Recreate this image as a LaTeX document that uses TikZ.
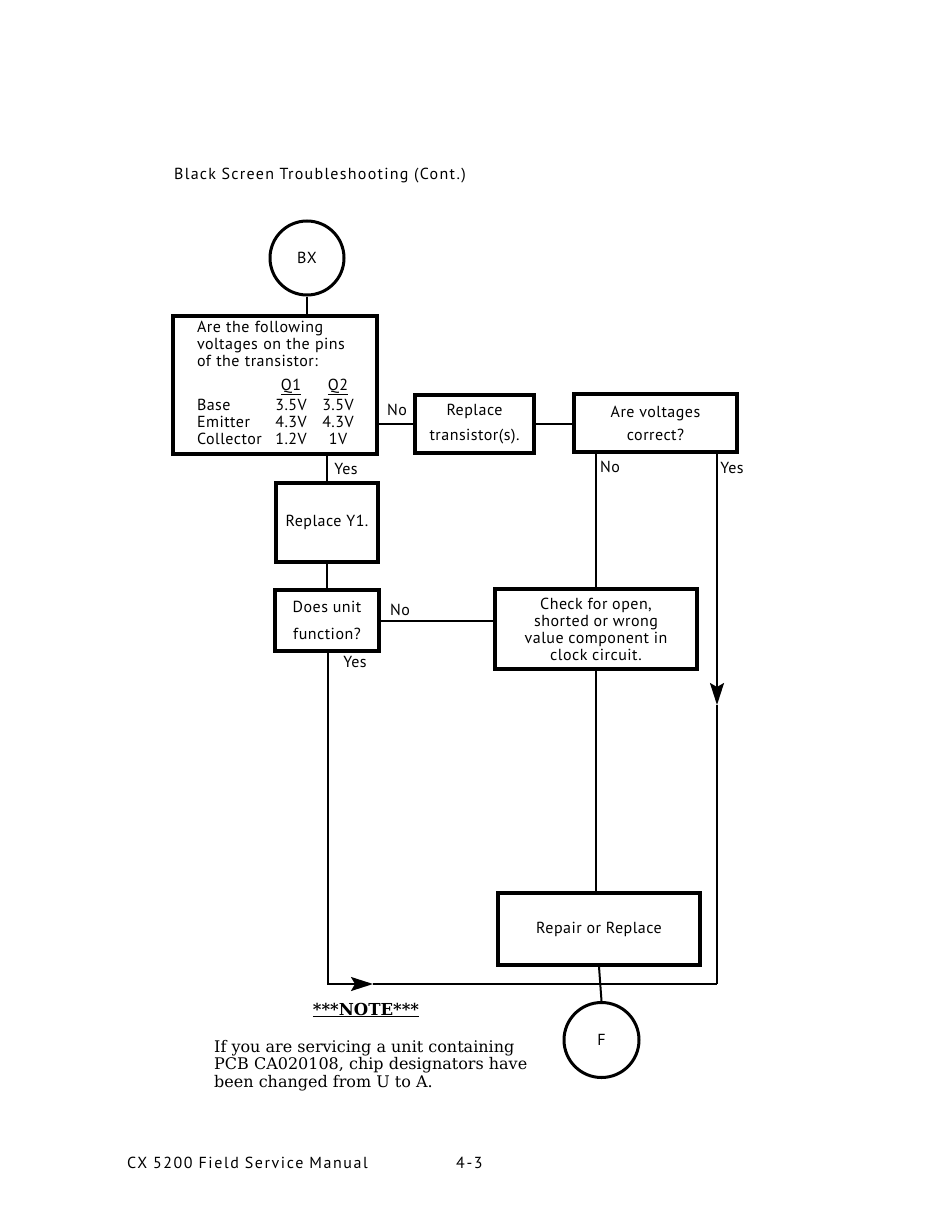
\documentclass[tikz,border=0pt]{standalone}
\usepackage{fontspec}
\usepackage{array}
\setmainfont{PT Sans}[LetterSpace=3]
\newfontfamily\titlefont{PT Sans}[LetterSpace=8]
\newfontfamily\footfont{PT Sans}[LetterSpace=10]
\newfontfamily\notefont{DejaVu Serif}
\usetikzlibrary{arrows.meta}

\begin{document}
\begin{tikzpicture}[x=1pt, y=-1pt, font=\fontsize{16}{17}\selectfont]
\tikzset{box/.style={draw, line width=3.4pt, align=center, inner sep=0pt},
  ring/.style={draw, circle, line width=3pt, minimum size=74pt, inner sep=0pt},
  flow/.style={line width=2pt},
  arrowtip/.style={-{Stealth[length=22pt, width=14pt, inset=4pt]}},
  lbl/.style={inner sep=0pt}}
\useasboundingbox[fill=white] (0,0) rectangle (950,1228);

\node[lbl, anchor=base west, font=\titlefont\fontsize{16}{17}\selectfont] (title) at (174,179) {Black Screen Troubleshooting (Cont.)};

% flow chart
\node[ring] (bx) at (307,258) {BX};
\node[box, minimum width=204pt, minimum height=138pt, text width=156pt, align=left] (pins) at (275,385)
  {Are the following\\ voltages on the pins\\ of the transistor:\\[11pt]
   \begin{tabular}{@{}p{78pt}@{}w{c}{32pt}@{\hspace{15pt}}w{c}{32pt}@{}}
    & \underline{Q1} & \underline{Q2}\\[3pt]
   Base & 3.5V & 3.5V\\
   Emitter & 4.3V & 4.3V\\
   Collector & 1.2V & 1V
   \end{tabular}};
\node[box, minimum width=119pt, minimum height=58pt] (swap) at (474.5,424) {Replace\\[8pt]transistor(s).};
\node[box, minimum width=163pt, minimum height=58pt] (recheck) at (655.5,423) {Are voltages\\[6pt]correct?};
\node[box, minimum width=102pt, minimum height=79pt] (crystal) at (327,522.5) {Replace Y1.};
\node[box, minimum width=104pt, minimum height=61pt] (works) at (327,620.5) {Does unit\\[10pt]function?};
\node[box, minimum width=202pt, minimum height=80pt] (clock) at (596,629)
  {Check for open,\\ shorted or wrong\\ value component in\\ clock circuit.};
\node[box, minimum width=202pt, minimum height=72pt] (repair) at (599,929) {Repair or Replace};
\node[ring, minimum size=75pt] (fin) at (601.5,1040) {F};

\coordinate (ydown) at (717,705);
\coordinate (rcorner) at (717,984);
\coordinate (lcorner) at (328,984);
\coordinate (yright) at (373,984);

\draw[flow] (bx.south) -- (bx.south |- pins.north);
\draw[flow] (pins.east |- swap.west) -- (swap.west);
\draw[flow] (swap.east) -- (recheck.west |- swap.east);
\draw[flow] (crystal.north |- pins.south) -- (crystal.north);
\draw[flow] (crystal.south) -- (works.north);
\draw[flow] (works.east) -- (clock.west |- works.east);
\draw[flow] (recheck.south -| clock.north) -- (clock.north);
\draw[flow] (clock.south) -- (clock.south |- repair.north);
\draw[flow] (repair.south) -- (fin.north);
\draw[flow, arrowtip] (recheck.south -| ydown) -- (ydown);
\draw[flow] (ydown) -- (rcorner);
\draw[flow, arrowtip] (works.south -| lcorner) -- (lcorner) -- (yright);
\draw[flow] (yright) -- (rcorner);

% answers
\node[lbl] (no1) at (397,410) {No};
\node[lbl] (yes1) at (346,469) {Yes};
\node[lbl] (no2) at (610,467) {No};
\node[lbl] (yes2) at (732,468) {Yes};
\node[lbl] (no3) at (400,610) {No};
\node[lbl] (yes3) at (355,662) {Yes};

% note
\node[lbl, anchor=base, font=\notefont\bfseries\fontsize{16.5}{18}\selectfont] (notehead) at (366,1015) {\underline{***NOTE***}};
\node[lbl, anchor=base west, align=left, font=\notefont\fontsize{16}{17.5}\selectfont] (notetext) at (214,1087)
  {If you are servicing a unit containing\\ PCB CA020108, chip designators have\\ been changed from U to A.};

\node[lbl, anchor=base west, font=\footfont\fontsize{16}{17}\selectfont] (manual) at (127,1168) {CX 5200 Field Service Manual};
\node[lbl, anchor=base west, font=\footfont\fontsize{16}{17}\selectfont] (pageno) at (456,1168) {4-3};
\end{tikzpicture}
\end{document}
